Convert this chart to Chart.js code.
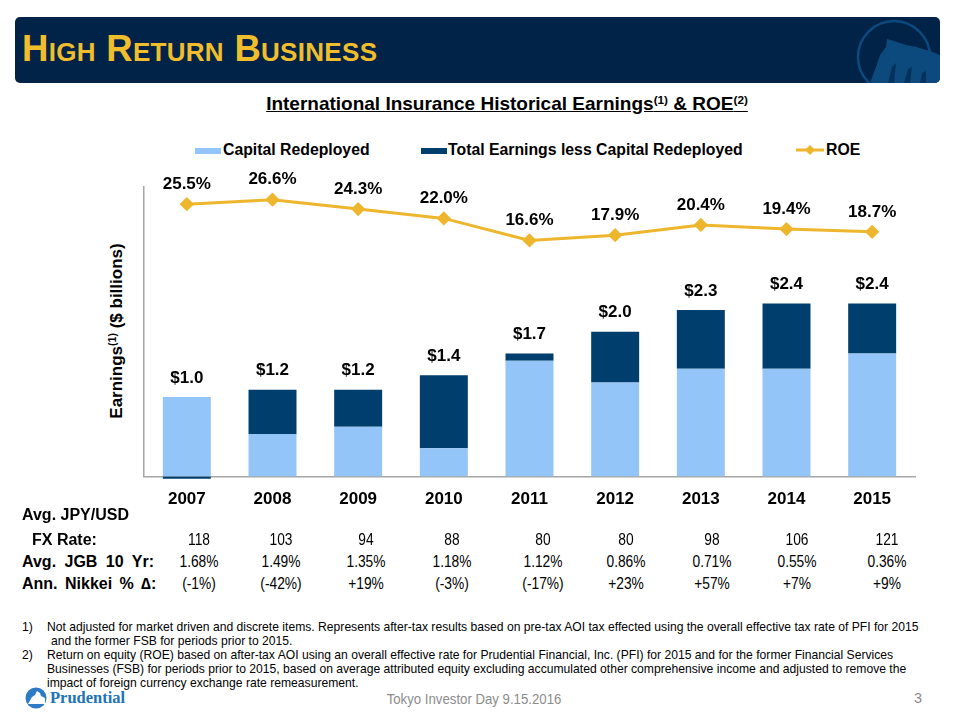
<!DOCTYPE html>
<html>
<head>
<meta charset="utf-8">
<script src="https://cdn.jsdelivr.net/npm/chart.js@4.4.1/dist/chart.umd.min.js"></script>
<style>
  html, body { margin: 0; padding: 0; background: #fff; }
  body { width: 960px; height: 720px; position: relative; overflow: hidden;
         font-family: "Liberation Sans", Arial, sans-serif; color: #000; }
  .abs { position: absolute; white-space: nowrap; }
  #header { left: 15px; top: 17px; width: 925px; height: 66px; background: #022348;
            border-radius: 5px; overflow: hidden; }
  #header h1 { position: absolute; left: 7px; top: 11px; margin: 0; font-size: 36.5px;
               font-weight: bold; font-variant: small-caps; color: #F0BE2C; letter-spacing: 0.3px; }
  #chartTitle { left: 0; width: 1014px; top: 93px; text-align: center; font-size: 19px;
                font-weight: bold; text-decoration: underline; }
  sup { font-size: 62%; vertical-align: 0.55em; line-height: 0; }
  .leg { top: 141px; font-size: 15.8px; font-weight: bold; }
  .box { position: absolute; height: 6px; top: 148px; }
  #yTitle { left: 117px; top: 331px; font-size: 17px; font-weight: bold;
            transform: translate(-50%, -50%) rotate(-90deg); }
  #chartWrap { position: absolute; left: 100px; top: 160px; width: 860px; height: 365px; }
  .row { font-size: 16px; }
  .lbl { font-weight: bold; }
  .val { transform: translateX(-50%) scaleX(0.86); }
  .fn { font-size: 13.2px; transform-origin: left center; transform: scaleX(0.92); }
  #footer { left: 474px; top: 690px; font-size: 15px; color: #8c8c8c;
            transform: translateX(-50%) scaleX(0.88); }
</style>
</head>
<body>

<div id="header" class="abs">
  <h1>High Return Business</h1>
  <svg width="120" height="66" style="position:absolute;right:0;top:0">
    <circle cx="74" cy="40" r="36" fill="none" stroke="#0C4A7E" stroke-width="2.5"/>
    <path d="M50 66 L56 50 L60 38 L66 30 L67 22 L74 24 L80 26 L86 28 L96 30 L110 34 L120 38 L120 66 Z" fill="#0C4A7E"/>
    <path d="M68 66 L72 50 L76 46 L74 66 Z M84 66 L88 52 L92 50 L90 66 Z M100 66 L102 56 L106 54 L106 66 Z" fill="#022348" opacity="0.6"/>
  </svg>
</div>

<div id="chartTitle" class="abs">International Insurance Historical Earnings<sup>(1)</sup> &amp; ROE<sup>(2)</sup></div>

<div class="box" style="left:195px;width:26px;background:#94C5F9"></div>
<div class="abs leg" style="left:223px">Capital Redeployed</div>
<div class="box" style="left:421px;width:26px;background:#003E6D"></div>
<div class="abs leg" style="left:448px">Total Earnings less Capital Redeployed</div>
<svg class="abs" style="left:795px;top:144px" width="30" height="12">
  <line x1="1" y1="6" x2="29" y2="6" stroke="#EDB62C" stroke-width="3"/>
  <polygon points="15,1 20,6 15,11 10,6" fill="#EDB62C"/>
</svg>
<div class="abs leg" style="left:826px">ROE</div>

<div id="yTitle" class="abs">Earnings<sup>(1)</sup> ($ billions)</div>

<div id="chartWrap"><canvas id="chart" width="860" height="365"></canvas></div>

<div id="table"></div>

<div class="abs fn" style="left:22px;top:619px">1)</div>
<div class="abs fn" style="left:47px;top:619px">Not adjusted for market driven and discrete items. Represents after-tax results based on pre-tax AOI tax effected using the overall effective tax rate of PFI for 2015</div>
<div class="abs fn" style="left:51px;top:633px">and the former FSB for periods prior to 2015.</div>
<div class="abs fn" style="left:22px;top:647px">2)</div>
<div class="abs fn" style="left:47px;top:647px">Return on equity (ROE) based on after-tax AOI using an overall effective rate for Prudential Financial, Inc. (PFI) for 2015 and for the former Financial Services</div>
<div class="abs fn" style="left:47px;top:661px">Businesses (FSB) for periods prior to 2015, based on average attributed equity excluding accumulated other comprehensive income and adjusted to remove the</div>
<div class="abs fn" style="left:47px;top:675px">impact of foreign currency exchange rate remeasurement.</div>

<svg class="abs" style="left:24px;top:686px" width="24" height="24">
  <circle cx="12" cy="12" r="10.5" fill="#2C7BC4"/>
  <path d="M4 18 L8 11 L11 9 L13 5 L16 7 L17 10 L21 12 L21 18 Z" fill="#ffffff"/>
</svg>
<div class="abs" style="left:50px;top:688px;font-family:'Liberation Serif','DejaVu Serif',serif;font-weight:bold;font-size:16.5px;color:#2272B8">Prudential</div>
<div id="footer" class="abs">Tokyo Investor Day 9.15.2016</div>
<div class="abs" style="left:914px;top:690px;font-size:14.5px;color:#8c8c8c">3</div>

<script>
// Gegevens
const jaren = ["2007", "2008", "2009", "2010", "2011", "2012", "2013", "2014", "2015"];
const kapitaal = [1.10, 0.59, 0.69, 0.39, 1.60, 1.30, 1.49, 1.49, 1.70];
const overig = [-0.03, 0.61, 0.51, 1.01, 0.10, 0.70, 0.81, 0.90, 0.69];
const totaalLabels = ["1.0", "1.2", "1.2", "1.4", "1.7", "2.0", "2.3", "2.4", "2.4"];
const roe = [25.5, 26.6, 24.3, 22.0, 16.6, 17.9, 20.4, 19.4, 18.7];

const fxKoers = ["118", "103", "94", "88", "80", "80", "98", "106", "121"];
const jgb = ["1.68%", "1.49%", "1.35%", "1.18%", "1.12%", "0.86%", "0.71%", "0.55%", "0.36%"];
const nikkei = ["(-1%)", "(-42%)", "+19%", "(-3%)", "(-17%)", "+23%", "+57%", "+7%", "+9%"];
const kolomX = [199, 281, 366, 452, 543, 626, 712, 797, 887];

// Tabel onder de grafiek
function vulTabel() {
  const t = document.getElementById("table");
  const rijen = [
    { y: 506, label: "Avg. JPY/USD", x: 22, ws: 0, vals: null },
    { y: 531, label: "FX Rate:", x: 32, ws: 0, vals: fxKoers },
    { y: 553, label: "Avg. JGB 10 Yr:", x: 22, ws: 4, vals: jgb },
    { y: 575, label: "Ann. Nikkei % \u2206:", x: 22, ws: 3, vals: nikkei },
  ];
  rijen.forEach((r) => {
    const l = document.createElement("div");
    l.className = "abs row lbl";
    l.style.left = r.x + "px";
    l.style.top = r.y + "px";
    l.style.wordSpacing = r.ws + "px";
    l.textContent = r.label;
    t.appendChild(l);
    if (!r.vals) return;
    r.vals.forEach((v, i) => {
      const d = document.createElement("div");
      d.className = "abs row val";
      d.style.left = kolomX[i] + "px";
      d.style.top = r.y + "px";
      d.textContent = v;
      t.appendChild(d);
    });
  });
}
vulTabel();

// Labels boven balken en punten
const labelPlugin = {
  id: "labels",
  afterDatasetsDraw(chart) {
    const ctx = chart.ctx;
    const y = chart.scales.y;
    const lijn = chart.getDatasetMeta(2);
    ctx.save();
    ctx.fillStyle = "#000";
    ctx.textAlign = "center";
    ctx.textBaseline = "middle";
    ctx.font = "bold 17px 'Liberation Sans', Arial, sans-serif";
    chart.getDatasetMeta(0).data.forEach((bar, i) => {
      const top = y.getPixelForValue(kapitaal[i] + Math.max(overig[i], 0));
      ctx.fillText("$" + totaalLabels[i], bar.x, top - 19);
    });
    lijn.data.forEach((pt, i) => {
      ctx.fillText(roe[i].toFixed(1) + "%", pt.x, pt.y - 20);
    });
    ctx.restore();
  },
};

const ctx = document.getElementById("chart").getContext("2d");
new Chart(ctx, {
  data: {
    labels: jaren,
    datasets: [
      {
        type: "bar",
        label: "Capital Redeployed",
        data: kapitaal,
        backgroundColor: "#94C5F9",
        stack: "s",
        yAxisID: "y",
        order: 2,
        barPercentage: 0.56,
        categoryPercentage: 1,
      },
      {
        type: "bar",
        label: "Total Earnings less Capital Redeployed",
        data: overig,
        backgroundColor: "#003E6D",
        stack: "s",
        yAxisID: "y",
        order: 2,
        clip: false,
        barPercentage: 0.56,
        categoryPercentage: 1,
      },
      {
        type: "line",
        label: "ROE",
        data: roe,
        yAxisID: "y2",
        borderColor: "#EDB62C",
        backgroundColor: "#EDB62C",
        borderWidth: 3,
        pointStyle: "rectRot",
        pointRadius: 5,
        pointHoverRadius: 5,
        tension: 0,
        order: 1,
      },
    ],
  },
  options: {
    responsive: false,
    animation: false,
    layout: { padding: { left: 44, right: 45, top: 27, bottom: 2 } },
    plugins: { legend: { display: false }, tooltip: { enabled: false } },
    scales: {
      x: {
        stacked: true,
        grid: { display: false, drawTicks: false },
        border: { display: true, color: "#A6A6A6", width: 1.5 },
        ticks: {
          color: "#000",
          padding: 13,
          font: { family: "'Liberation Sans', Arial, sans-serif", size: 17, weight: "bold" },
        },
      },
      y: {
        stacked: true,
        min: 0,
        max: 4,
        grid: { display: false, drawTicks: false },
        border: { display: true, color: "#A6A6A6", width: 1.5 },
        ticks: { display: false },
      },
      y2: {
        display: false,
        min: -41.3,
        max: 29.7,
      },
    },
  },
  plugins: [labelPlugin],
});
</script>
</body>
</html>
